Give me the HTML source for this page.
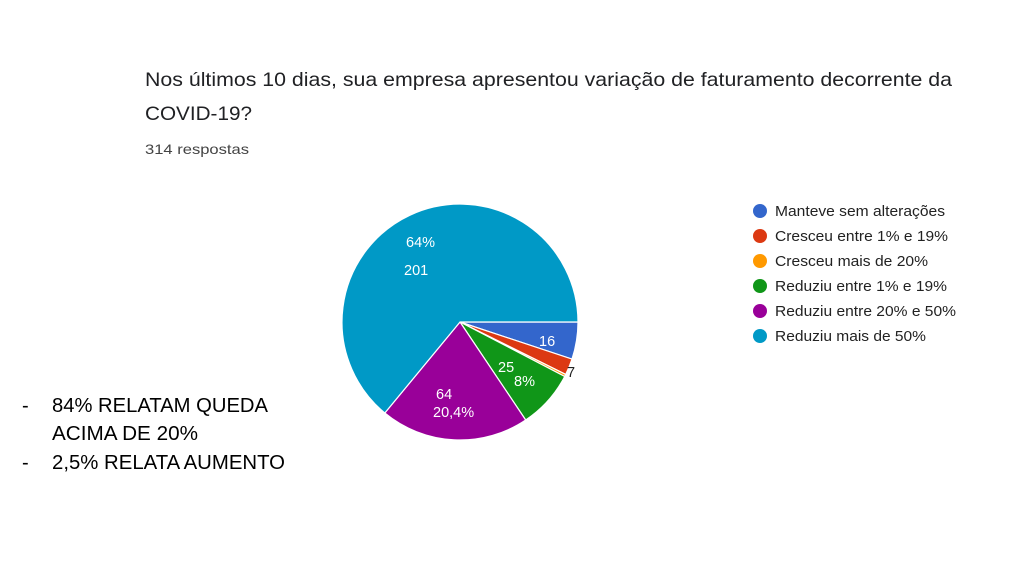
<!DOCTYPE html>
<html><head><meta charset="utf-8"><style>
body{margin:0;background:#fff;}
svg{display:block;font-family:"Liberation Sans",Arial,sans-serif;}
</style></head><body>
<svg width="1024" height="576" viewBox="0 0 1024 576">
<text x="145" y="86" font-size="19.5" fill="#202124" textLength="807" lengthAdjust="spacingAndGlyphs">Nos últimos 10 dias, sua empresa apresentou variação de faturamento decorrente da</text>
<text x="145" y="120" font-size="19.5" fill="#202124" textLength="107" lengthAdjust="spacingAndGlyphs">COVID-19?</text>
<text x="145" y="154" font-size="14" fill="#444" textLength="104" lengthAdjust="spacingAndGlyphs">314 respostas</text>
<g stroke="#fff" stroke-width="1.2">
<path d="M460,322 L578,322 A118,118 0 0 1 572.0,359.1 Z" fill="#3366cc"/>
<path d="M460,322 L572.0,359.1 A118,118 0 0 1 565.7,374.4 Z" fill="#dc3912"/>
<path d="M460,322 L565.7,374.4 A118,118 0 0 1 564.7,376.5 Z" fill="#ff9900"/>
<path d="M460,322 L564.7,376.5 A118,118 0 0 1 525.7,420.0 Z" fill="#109618"/>
<path d="M460,322 L525.7,420.0 A118,118 0 0 1 384.8,413.0 Z" fill="#990099"/>
<path d="M460,322 L384.8,413.0 A118,118 0 1 1 578,322 Z" fill="#0099c6"/>
</g>
<g font-size="14.5" fill="#fff">
<text x="406" y="247">64%</text>
<text x="404" y="275">201</text>
<text x="539" y="346">16</text>
<text x="498" y="372">25</text>
<text x="514" y="386">8%</text>
<text x="436" y="399">64</text>
<text x="433" y="417">20,4%</text>
</g>
<text x="567" y="377" font-size="14.5" fill="#222">7</text>
<g font-size="14.5" fill="#222">
<circle cx="760" cy="211" r="7" fill="#3366cc"/><text x="775" y="216" textLength="170" lengthAdjust="spacingAndGlyphs">Manteve sem alterações</text>
<circle cx="760" cy="236" r="7" fill="#dc3912"/><text x="775" y="241" textLength="173" lengthAdjust="spacingAndGlyphs">Cresceu entre 1% e 19%</text>
<circle cx="760" cy="261" r="7" fill="#ff9900"/><text x="775" y="266" textLength="153" lengthAdjust="spacingAndGlyphs">Cresceu mais de 20%</text>
<circle cx="760" cy="286" r="7" fill="#109618"/><text x="775" y="291" textLength="172" lengthAdjust="spacingAndGlyphs">Reduziu entre 1% e 19%</text>
<circle cx="760" cy="311" r="7" fill="#990099"/><text x="775" y="316" textLength="181" lengthAdjust="spacingAndGlyphs">Reduziu entre 20% e 50%</text>
<circle cx="760" cy="336" r="7" fill="#0099c6"/><text x="775" y="341" textLength="151" lengthAdjust="spacingAndGlyphs">Reduziu mais de 50%</text>
</g>
<g font-size="20" fill="#000">
<text x="22" y="412">-</text><text x="52" y="412" textLength="216" lengthAdjust="spacingAndGlyphs">84% RELATAM QUEDA</text>
<text x="52" y="440" textLength="146" lengthAdjust="spacingAndGlyphs">ACIMA DE 20%</text>
<text x="22" y="469">-</text><text x="52" y="469" textLength="233" lengthAdjust="spacingAndGlyphs">2,5% RELATA AUMENTO</text>
</g>
</svg>
</body></html>
